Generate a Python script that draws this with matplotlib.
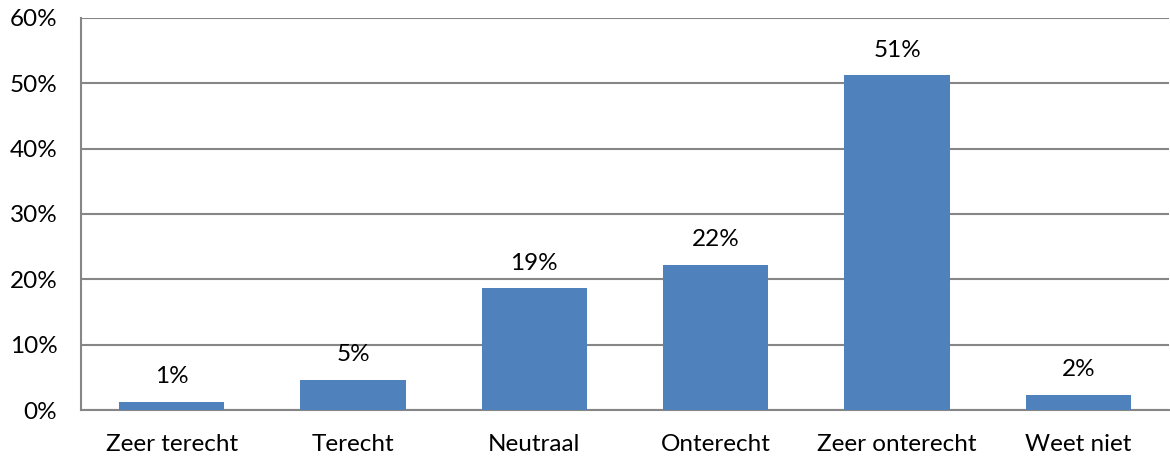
import matplotlib.pyplot as plt
from matplotlib.ticker import PercentFormatter

# Data
categories = ["Zeer terecht", "Terecht", "Neutraal", "Onterecht", "Zeer onterecht", "Weet niet"]
values = [1.2, 4.6, 18.6, 22.2, 51.2, 2.3]
y_ticks = [0, 10, 20, 30, 40, 50, 60]

plt.rcParams["font.family"] = ["Lato", "DejaVu Sans"]

fig = plt.figure(figsize=(11.7, 4.61), dpi=100)
ax = fig.add_axes([0.0692, 0.1106, 0.93, 0.8504])

x = range(len(categories))
ax.bar(x, values, width=0.58, color="#4F81BD", zorder=3)

# data labels above the bars
for xi, v in zip(x, values):
    ax.annotate(f"{v:.0f}%", (xi, v), xytext=(0, 13.5), textcoords="offset points",
                ha="center", va="baseline", fontsize=17.5, color="black")

ax.set_xlim(-0.5, len(categories) - 0.5)
ax.set_ylim(0, 60)
ax.set_yticks(y_ticks)
ax.yaxis.set_major_formatter(PercentFormatter(decimals=0))
ax.set_xticks(list(x))
ax.set_xticklabels(categories)

ax.grid(axis="y", color="#868686", linewidth=1.5, zorder=0)
ax.tick_params(axis="y", length=0, pad=17, labelsize=17.5)
ax.tick_params(axis="x", length=0, pad=17, labelsize=17.5)

for side in ["top", "right"]:
    ax.spines[side].set_visible(False)
ax.spines["left"].set_color("#868686")
ax.spines["left"].set_linewidth(1.5)
ax.spines["bottom"].set_color("#868686")
ax.spines["bottom"].set_linewidth(1.5)

plt.savefig("out.png", dpi=100)
